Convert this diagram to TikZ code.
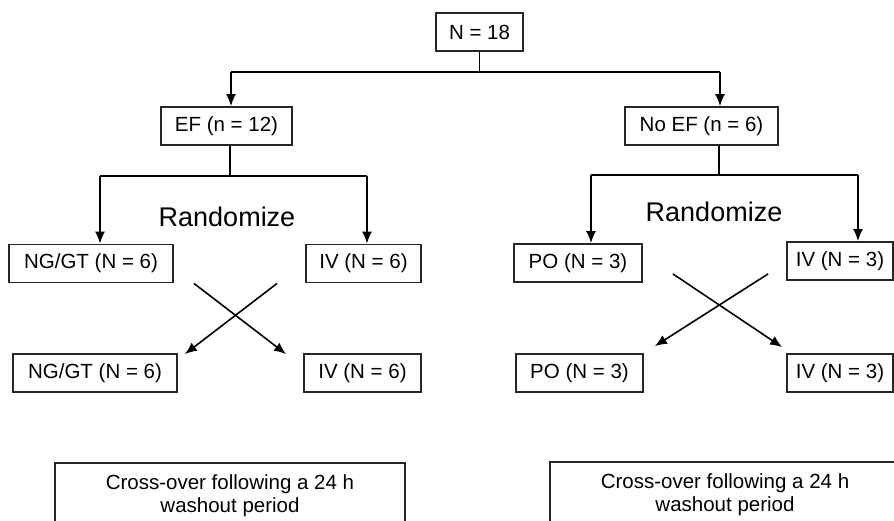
\documentclass[tikz,border=0pt]{standalone}
\usepackage{fontspec}
\setmainfont{Liberation Sans}
\usetikzlibrary{arrows.meta}

\tikzset{
  armbox/.style={draw=black!85,line width=1.8pt,minimum height=38pt,inner sep=0pt,font=\fontsize{20.5}{23}\selectfont},
  washbox/.style={draw=black!85,line width=1.8pt,minimum width=350pt,inner xsep=0pt,inner ysep=12pt,align=center,anchor=north,font=\fontsize{20.5}{23}\selectfont},
  randlabel/.style={font=\fontsize{27}{30}\selectfont},
  arr/.style={-{Latex[length=12pt,width=10pt]}},
}

\begin{document}
\begin{tikzpicture}[x=1pt,y=-1pt,line width=1.6pt]
\useasboundingbox (0,0) rectangle (894,521);
\clip (0,0) rectangle (894,521);

% top level
\node[armbox,minimum width=87pt] (n18) at (479.5,32) {N = 18};
\node[armbox,minimum width=131pt] (ef) at (226.5,126) {EF (n = 12)};
\node[armbox,minimum width=153pt] (noef) at (701.5,126) {No EF (n = 6)};

\coordinate (s0) at (479.5,72);
\coordinate (b0l) at (231,72);
\coordinate (b0r) at (720,72);
\draw (n18.south) -- (s0);
\draw (b0l) -- (b0r);
\draw[arr] (b0l) -- (b0l |- ef.north);
\draw[arr] (b0r) -- (b0r |- noef.north);

% EF arm
\node[armbox,minimum width=164pt] (nggt1) at (91,263.5) {NG/GT (N = 6)};
\node[armbox,minimum width=115pt] (iv1) at (363.5,263.5) {IV (N = 6)};
\node[armbox,minimum width=164pt] (nggt2) at (95,373) {NG/GT (N = 6)};
\node[armbox,minimum width=117pt] (iv3) at (362.5,373) {IV (N = 6)};
\node[randlabel] (rand1) at (227,217) {Randomize};

\coordinate (s1) at (230,176);
\coordinate (b1l) at (100,176);
\coordinate (b1r) at (367,176);
\draw (s1 |- ef.south) -- (s1);
\draw (b1l) -- (b1r);
\draw[arr] (b1l) -- (b1l |- nggt1.north);
\draw[arr] (b1r) -- (b1r |- iv1.north);
\draw[arr] ([shift={(20,0)}]nggt1.south east) -- ([shift={(-17,1)}]iv3.north west);
\draw[arr] ([shift={(-28,0)}]iv1.south west) -- ([shift={(7,1)}]nggt2.north east);

% No EF arm
\node[armbox,minimum width=128pt] (po1) at (578,263) {PO (N = 3)};
\node[armbox,minimum width=106pt] (iv2) at (840,261) {IV (N = 3)};
\node[armbox,minimum width=127pt] (po2) at (579.5,373) {PO (N = 3)};
\node[armbox,minimum width=106pt] (iv4) at (840,373) {IV (N = 3)};
\node[randlabel] (rand2) at (714,212) {Randomize};

\coordinate (s2) at (719,175);
\coordinate (b2l) at (591,175);
\coordinate (b2r) at (858,175);
\draw (s2 |- noef.south) -- (s2);
\draw (b2l) -- (b2r);
\draw[arr] (b2l) -- (b2l |- po1.north);
\draw[arr] (b2r) -- (b2r |- iv2.north);
\draw[arr] ([shift={(30,-9)}]po1.south east) -- ([shift={(-4,-6)}]iv4.north west);
\draw[arr] ([shift={(-18,-7)}]iv2.south west) -- ([shift={(11,-7)}]po2.north east);

% washout
\node[washbox] (wash1) at (230,462) {Cross-over following a 24 h\\washout period};
\node[washbox] (wash2) at (725,461) {Cross-over following a 24 h\\washout period};
\end{tikzpicture}
\end{document}
